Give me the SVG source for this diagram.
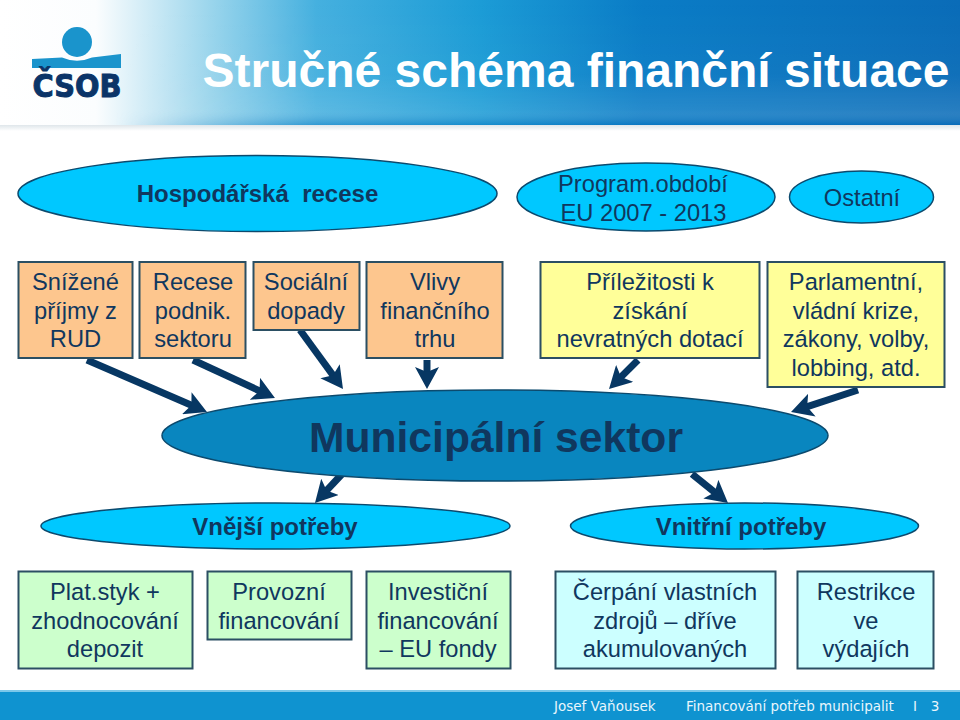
<svg xmlns="http://www.w3.org/2000/svg" width="960" height="720" viewBox="0 0 960 720">
<defs>
<linearGradient id="hdr" x1="0" y1="0" x2="1" y2="0">
<stop offset="0" stop-color="#ffffff"/>
<stop offset="0.1" stop-color="#fbfdfe"/>
<stop offset="0.22" stop-color="#9ad5ec"/>
<stop offset="0.33" stop-color="#45b0df"/>
<stop offset="0.5" stop-color="#1c9cd6"/>
<stop offset="0.67" stop-color="#0a7cc6"/>
<stop offset="1" stop-color="#0a6cb8"/>
</linearGradient>
<linearGradient id="sheen" x1="0" y1="0" x2="0" y2="1">
<stop offset="0" stop-color="#ffffff" stop-opacity="0"/>
<stop offset="0.6" stop-color="#ffffff" stop-opacity="0.03"/>
<stop offset="0.88" stop-color="#ffffff" stop-opacity="0.12"/>
<stop offset="1" stop-color="#0a6cb8" stop-opacity="0.35"/>
</linearGradient>
<linearGradient id="fade" x1="0" y1="0" x2="1" y2="0">
<stop offset="0.12" stop-color="#000"/>
<stop offset="0.33" stop-color="#fff"/>
</linearGradient>
<mask id="sheenMask" maskUnits="userSpaceOnUse" x="0" y="0" width="960" height="125"><rect x="0" y="0" width="960" height="125" fill="url(#fade)"/></mask>
<linearGradient id="shadow" x1="0" y1="0" x2="0" y2="1">
<stop offset="0" stop-color="#dfe6ea"/>
<stop offset="1" stop-color="#ffffff"/>
</linearGradient>
<marker id="ah" viewBox="0 0 22 24" refX="12" refY="12" markerWidth="22" markerHeight="24" markerUnits="userSpaceOnUse" orient="auto">
<path d="M0 0L22 12L0 24L5 12Z" fill="#073763"/>
</marker>
<style>
text{font-family:"Liberation Sans",Arial,sans-serif;fill:#10375e;text-anchor:middle}
.n{font-size:23.7px}
.b{font-weight:bold;font-size:24px}
.f{font-family:"DejaVu Sans",sans-serif;font-size:13.5px;fill:#e8f6fc}
.box{stroke:#2b4f63;stroke-width:2}
.or{fill:#fdc68e}
.ye{fill:#ffff99}
.gr{fill:#ccffcc}
.cy{fill:#ccffff}
.el{fill:#00c8ff;stroke:#0c4a6e;stroke-width:1.5}
.cn{stroke:#073763;stroke-width:7;fill:none;marker-end:url(#ah)}
</style>
</defs>
<rect width="960" height="720" fill="#fff"/>
<g id="header">
<rect x="0" y="0" width="960" height="125" fill="url(#hdr)"/>
<rect x="0" y="0" width="960" height="125" fill="url(#sheen)" mask="url(#sheenMask)"/>
<rect x="0" y="125" width="960" height="6" fill="url(#shadow)"/>
<circle cx="77" cy="42" r="15" fill="#1a94cc"/>
<path d="M32 59L62 57.5Q77 64 92 57.5L121 54V68H32Z" fill="#1a94cc"/>
<text x="77" y="97" style="font-family:'DejaVu Sans',sans-serif;font-size:32px;font-weight:bold;fill:#0b3468;stroke:#0b3468;stroke-width:1" textLength="89" lengthAdjust="spacingAndGlyphs">ČSOB</text>
<text x="576" y="87" style="font-size:48px;font-weight:bold;fill:#ffffff">Stručné schéma finanční situace</text>
</g>
<g id="footer">
<rect x="0" y="690" width="960" height="30" fill="#0f93d0"/>
<rect x="0" y="690" width="960" height="2" fill="#7cc8ea"/>
<text class="f" x="554" y="711" style="text-anchor:start">Josef Vaňousek</text>
<text class="f" x="686" y="711" style="text-anchor:start">Financování potřeb municipalit</text>
<text class="f" x="915" y="711">I</text>
<text class="f" x="935" y="711">3</text>
</g>
<g id="connectors">
<line class="cn" x1="87" y1="360" x2="197.800" y2="408"/>
<line class="cn" x1="193" y1="360" x2="265.900" y2="393.800"/>
<line class="cn" x1="300" y1="330" x2="337.100" y2="380.900"/>
<line class="cn" x1="427" y1="360" x2="427" y2="379"/>
<line class="cn" x1="638" y1="360" x2="616.100" y2="381.900"/>
<line class="cn" x1="858" y1="390" x2="800.500" y2="408.900"/>
<line class="cn" x1="343" y1="473" x2="321.800" y2="495.700"/>
<line class="cn" x1="692" y1="474" x2="720.200" y2="496.700"/>
</g>
<g id="e-recese"><ellipse class="el" cx="257.500" cy="193.500" rx="239.500" ry="38"/><text class="b" x="257.500" y="202">Hospodářská&#160; recese</text></g>
<g id="e-program"><ellipse class="el" cx="646" cy="197" rx="129" ry="34"/><text class="n" x="643" y="192">Program.období</text><text class="n" x="643.500" y="221">EU 2007 - 2013</text></g>
<g id="e-ostatni"><ellipse class="el" cx="861.500" cy="197" rx="72" ry="26"/><text class="n" x="862" y="206">Ostatní</text></g>
<g id="b-rud"><rect class="box or" x="18.500" y="262" width="114" height="96"/><text class="n" x="75.500" y="290">Snížené</text><text class="n" x="75.500" y="319">příjmy z</text><text class="n" x="75.500" y="347">RUD</text></g>
<g id="b-podnik"><rect class="box or" x="139.500" y="262" width="106" height="96"/><text class="n" x="193" y="290">Recese</text><text class="n" x="193" y="319">podnik.</text><text class="n" x="193" y="347">sektoru</text></g>
<g id="b-social"><rect class="box or" x="253.500" y="262" width="106" height="68"/><text class="n" x="306" y="290">Sociální</text><text class="n" x="306" y="319">dopady</text></g>
<g id="b-vlivy"><rect class="box or" x="366.500" y="262" width="136" height="96"/><text class="n" x="435" y="290">Vlivy</text><text class="n" x="435" y="319">finančního</text><text class="n" x="435" y="347">trhu</text></g>
<g id="b-prilez"><rect class="box ye" x="540.500" y="262" width="219" height="96"/><text class="n" x="650" y="290">Příležitosti k</text><text class="n" x="650" y="319">získání</text><text class="n" x="650" y="347">nevratných dotací</text></g>
<g id="b-parlament"><rect class="box ye" x="767.500" y="262" width="177" height="125"/><text class="n" x="856" y="290">Parlamentní,</text><text class="n" x="856" y="319">vládní krize,</text><text class="n" x="856" y="347">zákony, volby,</text><text class="n" x="856" y="376">lobbing, atd.</text></g>
<g id="e-municipal"><ellipse cx="495" cy="435.500" rx="333" ry="45.500" fill="#0986bf" stroke="#0c4a6e" stroke-width="1.500"/><text x="496" y="452" style="font-size:42.600px;font-weight:bold">Municipální sektor</text></g>
<g id="e-vnejsi"><ellipse class="el" cx="275.500" cy="526" rx="234.500" ry="23"/><text class="b" x="275" y="535">Vnější potřeby</text></g>
<g id="e-vnitrni"><ellipse class="el" cx="744.500" cy="526" rx="174" ry="23"/><text class="b" x="741" y="535">Vnitřní potřeby</text></g>
<g id="b-plat"><rect class="box gr" x="18.500" y="571.500" width="174" height="97"/><text class="n" x="105" y="600">Plat.styk +</text><text class="n" x="105" y="629">zhodnocování</text><text class="n" x="105" y="657">depozit</text></g>
<g id="b-provozni"><rect class="box gr" x="207.500" y="571.500" width="144" height="68"/><text class="n" x="279" y="600">Provozní</text><text class="n" x="279" y="629">financování</text></g>
<g id="b-invest"><rect class="box gr" x="366.500" y="571.500" width="144" height="97"/><text class="n" x="438" y="600">Investiční</text><text class="n" x="438" y="629">financování</text><text class="n" x="438" y="657">– EU fondy</text></g>
<g id="b-cerpani"><rect class="box cy" x="555.500" y="571.500" width="220" height="97"/><text class="n" x="665" y="600">Čerpání vlastních</text><text class="n" x="665" y="629">zdrojů – dříve</text><text class="n" x="665" y="657">akumulovaných</text></g>
<g id="b-restrikce"><rect class="box cy" x="797.500" y="571.500" width="136" height="97"/><text class="n" x="866" y="600">Restrikce</text><text class="n" x="866" y="629">ve</text><text class="n" x="866" y="657">výdajích</text></g>
</svg>
